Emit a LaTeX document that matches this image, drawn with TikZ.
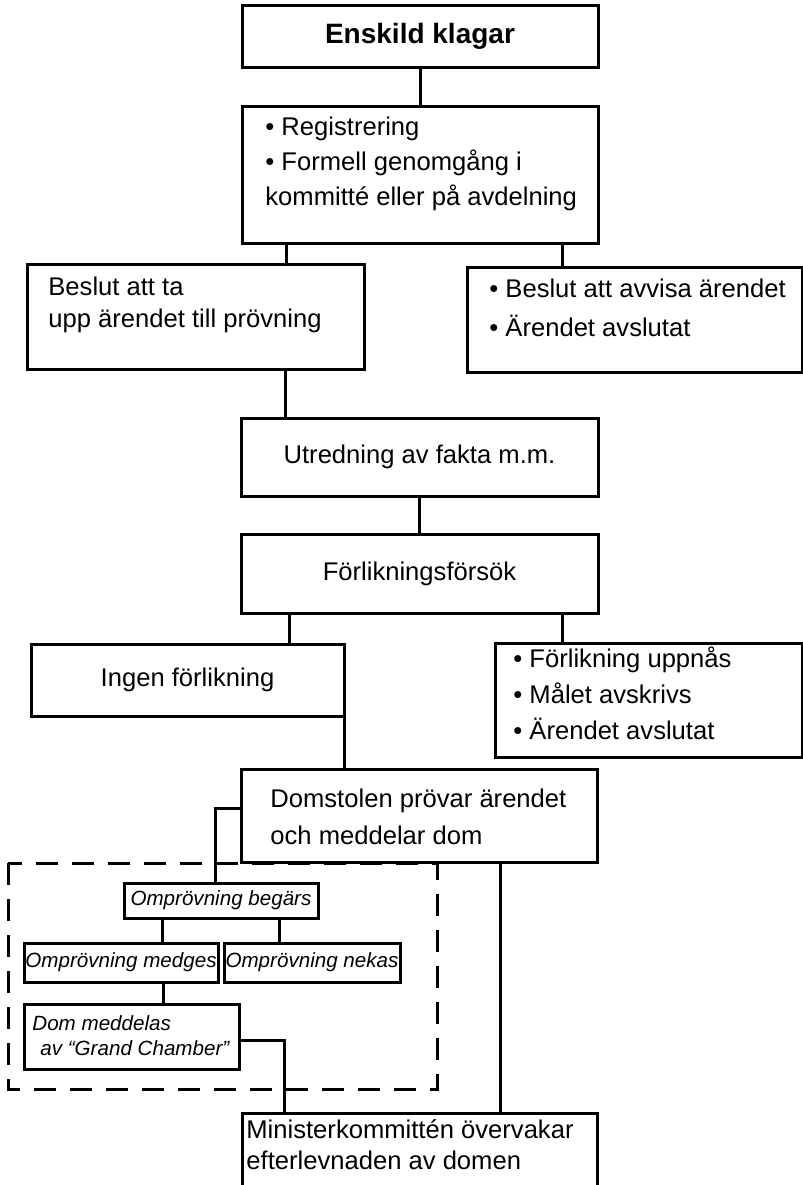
\documentclass[tikz,border=0pt]{standalone}
\usepackage{fontspec}
\setmainfont{Liberation Sans}
\begin{document}
\begin{tikzpicture}[x=0.5pt, y=-0.5pt,
  box/.style={draw, rectangle, line width=1.5pt, inner sep=0pt, outer sep=0pt},
  txt/.style={inner sep=0pt, anchor=base west, align=left, font=\fontsize{12.8}{17.5}\selectfont},
  ital/.style={font=\fontsize{10.3}{12.5}\selectfont\itshape},
  link/.style={line width=1.5pt},
  frame/.style={line width=1.5pt, dash pattern=on 11pt off 7pt}]

\useasboundingbox (0,0) rectangle (803,1185);

% main column
\node[box, minimum width=178pt, minimum height=31pt, font=\fontsize{14}{17}\selectfont\bfseries] (klagar) at (420,36) {Enskild klagar};
\node[box, minimum width=178pt, minimum height=68.5pt] (reg) at (420,174.5) {};
\node[txt] (regtext) at (265,205) {• Registrering\\• Formell genomgång i\\kommitté eller på avdelning};

\node[box, minimum width=168.5pt, minimum height=52.5pt] (ta) at (195.5,316.5) {};
\node[txt, font=\fontsize{12.8}{16}\selectfont] (tatext) at (48,327) {Beslut att ta\\upp ärendet till prövning};
\node[box, minimum width=167.5pt, minimum height=52.5pt] (avvisa) at (634.5,319.5) {};
\node[txt, font=\fontsize{12.8}{19.5}\selectfont] (avvisatext) at (489,336) {• Beslut att avvisa ärendet\\• Ärendet avslutat};

\node[box, minimum width=178.5pt, minimum height=39pt, font=\fontsize{12.8}{16}\selectfont] (utr) at (419.5,457) {Utredning av fakta m.m.};
\node[box, minimum width=178.5pt, minimum height=39.5pt, font=\fontsize{12.8}{16}\selectfont] (forsok) at (419.5,573.5) {Förlikningsförsök};

\node[box, minimum width=156.5pt, minimum height=36pt, font=\fontsize{12.8}{16}\selectfont] (ingen) at (187.5,680) {Ingen förlikning};
\node[box, minimum width=153.5pt, minimum height=57pt] (uppnas) at (648.5,700) {};
\node[txt, font=\fontsize{12.8}{18}\selectfont] (uppnastext) at (513,739) {• Förlikning uppnås\\• Målet avskrivs\\• Ärendet avslutat};

\node[box, minimum width=178pt, minimum height=46.5pt] (domstol) at (419,815.5) {};
\node[txt, font=\fontsize{12.8}{18.5}\selectfont] (domstoltext) at (270,844) {Domstolen prövar ärendet\\och meddelar dom};

% review by the Grand Chamber
\draw[frame] (8,863) rectangle (437,1089);
\node[box, ital, minimum width=97pt, minimum height=17.5pt] (begars) at (221,900.5) {Omprövning begärs};
\node[box, ital, minimum width=97pt, minimum height=19.5pt] (medges) at (121,962.5) {Omprövning medges};
\node[box, ital, minimum width=88pt, minimum height=19.5pt] (nekas) at (312,962.5) {Omprövning nekas};
\node[box, minimum width=107.5pt, minimum height=32.5pt] (dom) at (131.5,1036.5) {};
\node[txt, ital, anchor=base west] (domtext) at (32,1055) {Dom meddelas\\\hspace{4pt}av “Grand Chamber”};

\node[box, minimum width=177.5pt, minimum height=43.5pt] (minister) at (419.5,1156.5) {};
\node[txt, font=\fontsize{12.8}{15.5}\selectfont] (ministertext) at (246,1169) {Ministerkommittén övervakar\\efterlevnaden av domen};

% connectors
\draw[link] (klagar) -- (reg);
\coordinate (r1) at ([xshift=22pt]reg.south west);
\draw[link] (r1) -- (r1 |- ta.north);
\coordinate (r2) at ([xshift=-18pt]reg.south east);
\draw[link] (r2) -- (r2 |- avvisa.north);
\coordinate (u1) at ([xshift=22pt]utr.north west);
\draw[link] (u1 |- ta.south) -- (u1);
\draw[link] (utr) -- (forsok);
\coordinate (f1) at ([xshift=24pt]forsok.south west);
\draw[link] (f1) -- (f1 |- ingen.north);
\coordinate (f2) at ([xshift=-18pt]forsok.south east);
\draw[link] (f2) -- (f2 |- uppnas.north);
\draw[link] (ingen.south east) -- (ingen.south east |- domstol.north);
\coordinate (d1) at ([yshift=-19.5pt]domstol.north west);
\draw[link] (d1) -| ([xshift=-3pt]begars.north);
\coordinate (b1) at ([xshift=19pt]begars.south west);
\draw[link] (b1) -- (b1 |- medges.north);
\coordinate (b2) at ([xshift=-19.5pt]begars.south east);
\draw[link] (b2) -- (b2 |- nekas.north);
\coordinate (m1) at ([xshift=69.5pt]medges.south west);
\draw[link] (m1) -- (m1 |- dom.north);
\coordinate (m2) at ([xshift=21pt]minister.north west);
\draw[link] ([yshift=-1.75pt]dom.east) -| (m2);
\coordinate (d2) at ([xshift=-48.5pt]domstol.south east);
\draw[link] (d2) -- (d2 |- minister.north);

\end{tikzpicture}
\end{document}
